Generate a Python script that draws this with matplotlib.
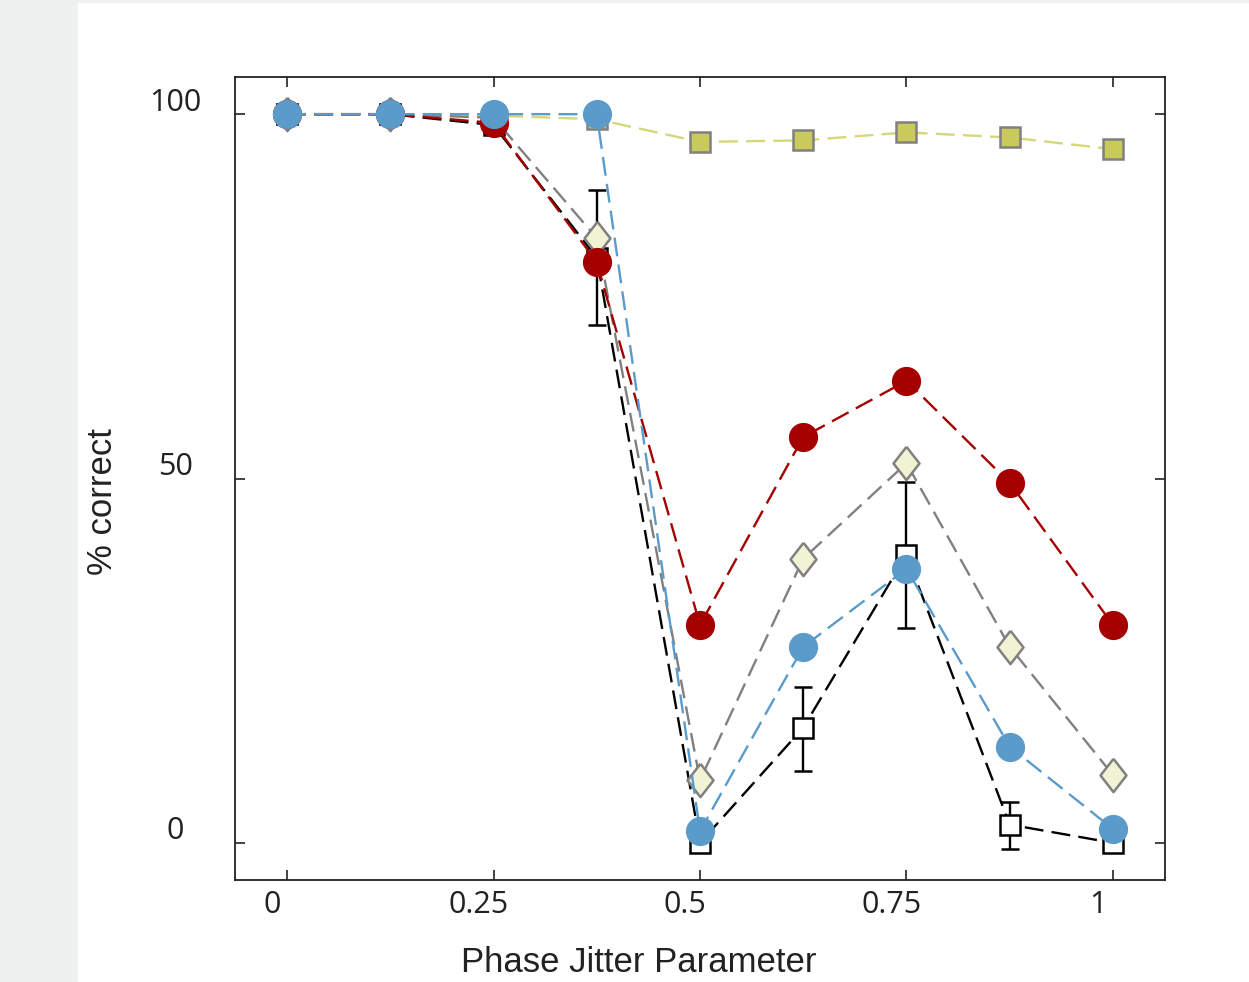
import numpy as np
import matplotlib
matplotlib.use("Agg")
import matplotlib.pyplot as plt
from matplotlib.patches import Rectangle
from matplotlib.transforms import ScaledTranslation

# data
jitter = [0, 0.125, 0.25, 0.375, 0.5, 0.625, 0.75, 0.875, 1.0]

yellow_sq = [100, 100, 99.8, 99.3, 96.2, 96.4, 97.5, 96.8, 95.2]
black_sq = [100, 100, 98.5, 80.3, 0, 15.8, 39.5, 2.5, 0]
black_err_lo = [0, 0, 0, 9.2, 0, 5.9, 10.0, 3.3, 0]
black_err_hi = [0, 0, 0, 9.3, 0, 5.6, 10.0, 3.1, 0]
gray_dia = [100, 100, 99.5, 83.0, 8.6, 39.0, 52.1, 26.9, 9.3]
red_circ = [100, 100, 98.8, 79.7, 29.9, 55.7, 63.4, 49.4, 29.9]
blue_circ = [100, 100, 100, 100, 1.6, 26.9, 37.6, 13.2, 1.9]

xticks = [0, 0.25, 0.5, 0.75, 1]
xticklabels = ["0", "0.25", "0.5", "0.75", "1"]
yticks = [0, 50, 100]

dash = (0, (8, 3.5))
tall_diamond = [(0, 1), (0.78, 0), (0, -1), (-0.78, 0), (0, 1)]

fig = plt.figure(figsize=(12.49, 9.82), dpi=100)
fig.patch.set_facecolor("white")
# grey page margins around the figure
fig.add_artist(Rectangle((0, 0), 78 / 1249, 1, transform=fig.transFigure,
                         facecolor="#eff1f0", edgecolor="none", zorder=-10))
fig.add_artist(Rectangle((0, 1 - 3 / 982), 1, 3 / 982, transform=fig.transFigure,
                         facecolor="#eff1f0", edgecolor="none", zorder=-10))

ax = fig.add_axes([235 / 1249, 1 - 880 / 982, 930 / 1249, 803 / 982])

ax.plot(jitter, yellow_sq, linestyle=dash, color="#d6d67a", lw=1.7,
        marker="s", ms=14, mfc="#c9c95c", mec="#808080", mew=1.8, zorder=2)

ax.errorbar(jitter, black_sq, yerr=[black_err_lo, black_err_hi], linestyle=dash,
            color="black", lw=1.7, elinewidth=1.7, capsize=6.5, capthick=1.7,
            marker="s", ms=15, mfc="white", mec="black", mew=1.8, zorder=3)

ax.plot(jitter, gray_dia, linestyle=dash, color="#808080", lw=1.7,
        marker=tall_diamond, ms=24, mfc="#f2f2d4", mec="#808080", mew=1.8, zorder=4)

ax.plot(jitter, red_circ, linestyle=dash, color="#a50000", lw=1.7,
        marker="o", ms=20, mfc="#a50000", mec="#a50000", mew=1, zorder=5)

ax.plot(jitter, blue_circ, linestyle=dash, color="#5b9bc9", lw=1.7,
        marker="o", ms=20, mfc="#5b9bc9", mec="#5b9bc9", mew=1, zorder=6)

ax.set_xlim(-0.063, 1.063)
ax.set_ylim(-5.1, 105.1)

ax.set_xticks(xticks)
ax.set_xticklabels(xticklabels)
ax.set_yticks(yticks)
ax.tick_params(direction="in", length=7, width=1.2, colors="#222222",
               top=True, right=True, labelsize=22)
ax.tick_params(axis="x", pad=7)
ax.tick_params(axis="y", pad=43)

for lab in ax.get_xticklabels():
    lab.set_fontfamily("Open Sans")
    lab.set_transform(lab.get_transform() + ScaledTranslation(-0.15, 0, fig.dpi_scale_trans))
for lab in ax.get_yticklabels():
    lab.set_fontfamily("Open Sans")
    lab.set_horizontalalignment("center")
    lab.set_transform(lab.get_transform() + ScaledTranslation(0, 0.15, fig.dpi_scale_trans))

for sp in ax.spines.values():
    sp.set_color("#222222")
    sp.set_linewidth(1.3)

ax.set_xlabel("Phase Jitter Parameter", fontsize=25, fontfamily="Liberation Sans",
              color="#222222")
ax.xaxis.set_label_coords(0.434, -0.082)
ax.set_ylabel("% correct", fontsize=25, fontfamily="Liberation Sans",
              color="#222222", va="center", ha="center")
ax.yaxis.set_label_coords(-0.143, 0.471)

fig.savefig("out.png", dpi=100)
